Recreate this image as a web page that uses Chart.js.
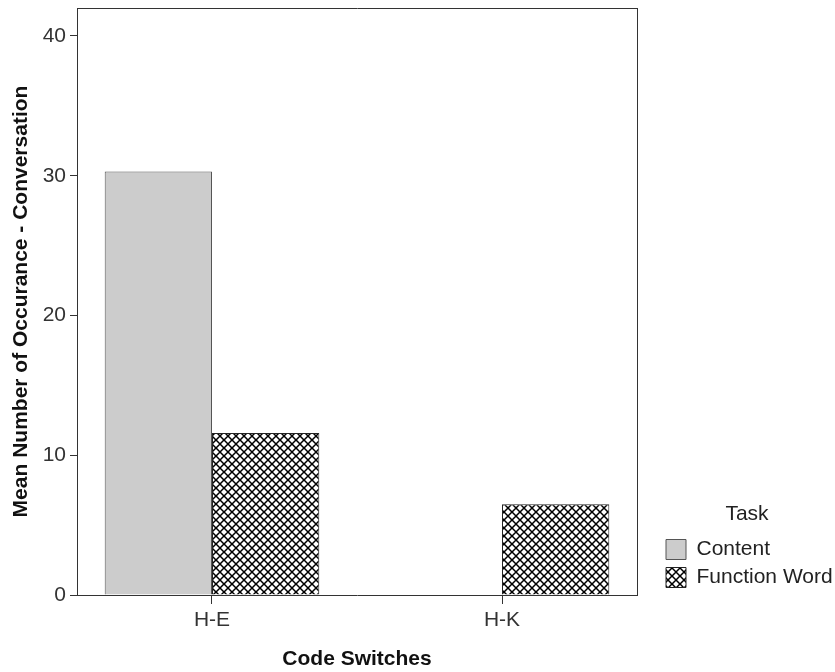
<!DOCTYPE html>
<html>
<head>
<meta charset="utf-8">
<script src="https://cdn.jsdelivr.net/npm/chart.js@4/dist/chart.umd.min.js"></script>
<style>
  html, body { margin: 0; padding: 0; background: #fff; }
  #wrap { width: 835px; height: 672px; position: relative; }
</style>
</head>
<body>
<div id="wrap"><canvas id="codeSwitchChart"></canvas></div>
<script>
// values
var categories = ["H-E", "H-K"];
var contentValues = [30.3, 0];
var functionValues = [11.6, 6.5];
var yTicks = [0, 10, 20, 30, 40];
var yMax = 42;

// cross hatch fill like the SPSS pattern
function crossHatch() {
    var c = document.createElement("canvas");
    c.width = 8;
    c.height = 8;
    var g = c.getContext("2d");
    g.fillStyle = "#fff";
    g.fillRect(0, 0, 8, 8);
    g.strokeStyle = "#000";
    g.lineWidth = 1.5;
    g.beginPath();
    g.moveTo(-1, -1); g.lineTo(9, 9);
    g.moveTo(-1, 9); g.lineTo(9, -1);
    g.stroke();
    return g.createPattern(c, "repeat");
}

var tickFont = { family: "'Liberation Sans', Arial, sans-serif", size: 21 };
var titleFont = { family: "'Liberation Sans', Arial, sans-serif", size: 21, weight: "bold" };
var lineColor = "#333";

Chart.defaults.font.family = "'Liberation Sans', Arial, sans-serif";
Chart.defaults.color = "#222";

// the legend sits in a fixed strip on the right
var legendWidth = {
    id: "legendWidth",
    beforeLayout: function (chart) {
        var legend = chart.legend;
        if (!legend || legend._fixedFit) return;
        var fit = legend.fit;
        legend.fit = function () {
            fit.call(this);
            this.width = 176;
        };
        legend._fixedFit = true;
    }
};

var ctx = document.getElementById("codeSwitchChart");

var codeSwitchChart = new Chart(ctx, {
    type: "bar",
    data: {
        datasets: [
            {
                label: "Content",
                backgroundColor: "#cccccc",
                borderColor: "#555",
                borderWidth: 1,
                data: categories.map(function (c, i) { return { x: i, y: contentValues[i] }; })
            },
            {
                label: "Function Word",
                backgroundColor: crossHatch(),
                borderColor: "#222",
                borderWidth: 1,
                data: categories.map(function (c, i) { return { x: i, y: functionValues[i] }; })
            }
        ]
    },
    plugins: [legendWidth],
    options: {
        responsive: true,
        maintainAspectRatio: false,
        animation: false,
        categoryPercentage: 0.74,
        barPercentage: 1,
        layout: { padding: 0 },
        plugins: {
            tooltip: { enabled: false },
            legend: {
                position: "right",
                align: "end",
                fullSize: false,
                title: {
                    display: true,
                    text: "Task",
                    font: { size: 21 },
                    color: "#222",
                    padding: { top: 0, bottom: 3 }
                },
                labels: {
                    boxWidth: 20,
                    boxHeight: 20,
                    padding: 7,
                    font: { size: 21 },
                    color: "#222"
                }
            }
        },
        scales: {
            x: {
                type: "linear",
                min: -0.4655,
                max: 1.4655,
                offset: false,
                afterBuildTicks: function (s) {
                    s.ticks = categories.map(function (c, i) { return { value: i }; });
                },
                ticks: {
                    callback: function (v) { return categories[v]; },
                    font: tickFont,
                    color: "#333",
                    padding: 4,
                    autoSkip: false,
                    maxRotation: 0
                },
                grid: { display: true, offset: false, drawOnChartArea: false, drawTicks: true, tickLength: 9, color: lineColor },
                border: { display: true, color: lineColor, width: 1 },
                title: { display: true, text: "Code Switches", font: titleFont, color: "#111", padding: { top: 0, bottom: 0 } },
                afterFit: function (s) { s.height = 77; s.paddingLeft = 0; s.paddingRight = 0; }
            },
            x2: {
                type: "linear",
                position: "top",
                display: true,
                grid: { display: false },
                ticks: { display: false },
                border: { display: true, color: lineColor, width: 1 },
                afterFit: function (s) { s.height = 8; s.paddingLeft = 0; s.paddingRight = 0; }
            },
            y: {
                min: 0,
                max: yMax,
                afterBuildTicks: function (s) {
                    s.ticks = yTicks.map(function (v) { return { value: v }; });
                },
                ticks: { font: tickFont, color: "#333", padding: 4 },
                grid: { display: true, drawOnChartArea: false, drawTicks: true, tickLength: 7, color: lineColor },
                border: { display: true, color: lineColor, width: 1 },
                title: { display: true, text: "Mean Number of Occurance - Conversation", font: titleFont, color: "#111", padding: { top: 9, bottom: 0 } },
                afterFit: function (s) { s.width = 77; s.paddingTop = 0; s.paddingBottom = 0; }
            },
            y2: {
                position: "right",
                display: true,
                grid: { display: false },
                ticks: { display: false },
                border: { display: true, color: lineColor, width: 1 },
                afterFit: function (s) { s.width = 22; s.paddingTop = 0; s.paddingBottom = 0; }
            }
        }
    }
});
</script>
</body>
</html>
